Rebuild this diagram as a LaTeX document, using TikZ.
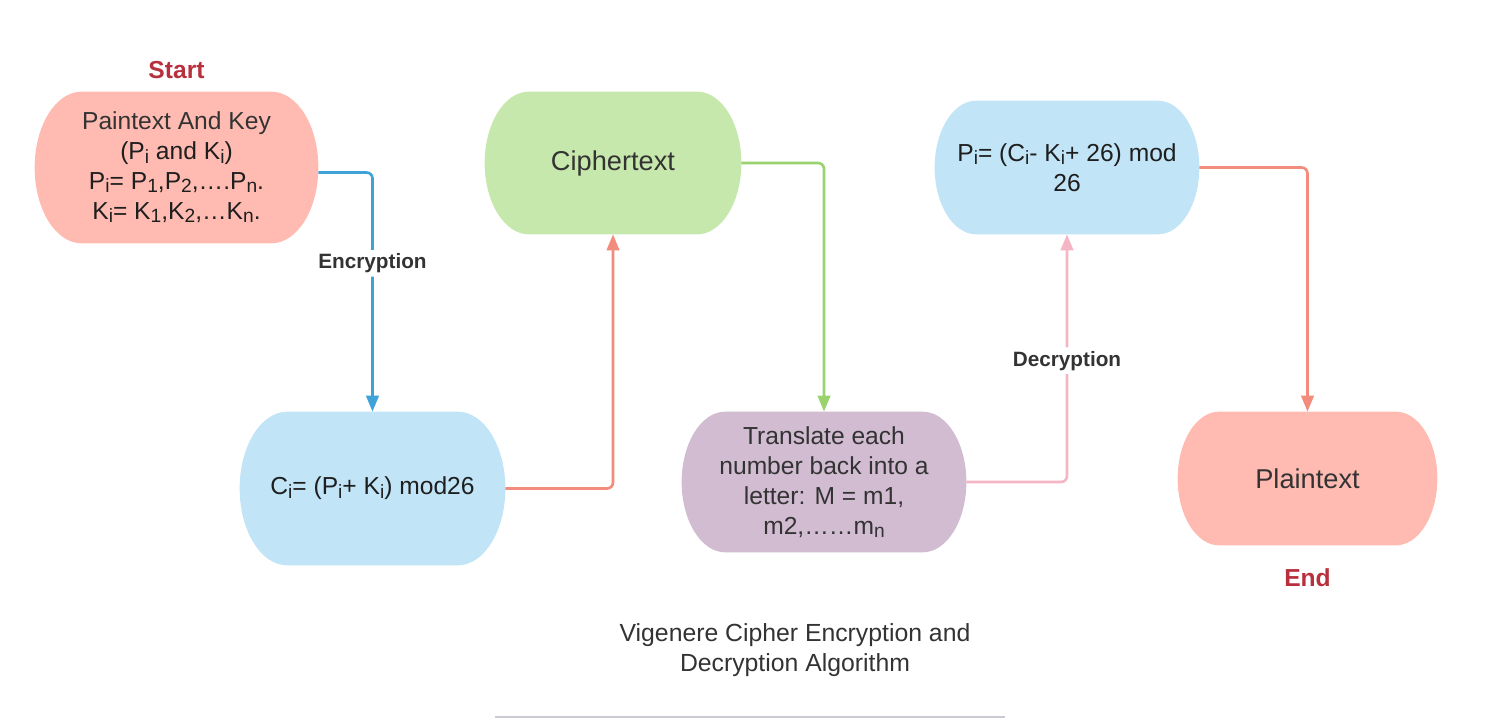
\documentclass[tikz,border=0pt]{standalone}
\usepackage{fontspec}
\setmainfont{Liberation Sans}
\usepackage{xcolor}
\usepackage{graphicx}
\usepackage{tikz}
\usetikzlibrary{arrows.meta}
\usetikzlibrary{positioning}
\usetikzlibrary{calc}
\usetikzlibrary{backgrounds}

\definecolor{pinkfill}{HTML}{FFBBB1}
\definecolor{greenfill}{HTML}{C7E8AC}
\definecolor{bluefill}{HTML}{C1E4F7}
\definecolor{purplefill}{HTML}{D1BCD2}
\definecolor{bluearrow}{HTML}{3FA2D8}
\definecolor{salmonarrow}{HTML}{F28C7C}
\definecolor{greenarrow}{HTML}{9AD26E}
\definecolor{pinkarrow}{HTML}{F4B5C5}
\definecolor{redtext}{HTML}{B8303D}
\definecolor{darktext}{HTML}{333333}
\definecolor{formtext}{HTML}{1E1E1E}
\definecolor{rulegray}{HTML}{CACBD3}

\newcommand{\sbs}[1]{\raisebox{-0.25ex}{\scalebox{0.78}{#1}}}
\newcommand{\termfill}[2]{%
  \fill[#2] let \p1=(#1.north west), \p2=(#1.south east),
    \n1={0.31*(\y1-\y2)}, \n2={0.5*(\y1-\y2)} in
    (\x1+\n1,\y1) -- (\x2-\n1,\y1)
    arc[start angle=90, end angle=-90, x radius=\n1, y radius=\n2]
    -- (\x1+\n1,\y2)
    arc[start angle=270, end angle=90, x radius=\n1, y radius=\n2] -- cycle;}

\tikzset{
  term/.style={inner sep=0pt, align=center, text=darktext, font=\fontsize{14}{17}\selectfont},
  bigterm/.style={term, font=\fontsize{15.5}{18}\selectfont},
  formula/.style={term, text=formtext},
  flow/.style={line width=1.5pt, rounded corners=0.12cm, arrows={-Triangle[width=0.25cm, length=0.32cm]}},
  edgelabel/.style={fill=white, text=darktext, inner sep=2pt, font=\bfseries\fontsize{11.8}{14}\selectfont},
  endlabel/.style={text=redtext, inner sep=0pt, font=\bfseries\fontsize{14}{17}\selectfont}
}

\begin{document}
\begin{tikzpicture}
\useasboundingbox (0,0) rectangle (29.8,-14.38);

\node[term, minimum width=5.66cm, minimum height=3.02cm] (plainkey) at (3.53,-3.35)
  {Paintext And Key\\\textcolor{formtext}{(P\sbs{i} and K\sbs{i})}\\\textcolor{formtext}{P\sbs{i}= P\sbs{1},P\sbs{2},….P\sbs{n}.}\\\textcolor{formtext}{K\sbs{i}= K\sbs{1},K\sbs{2},…K\sbs{n}.}};
\node[bigterm, minimum width=5.12cm, minimum height=2.84cm] (cipher) at (12.26,-3.26) {Ciphertext};
\node[formula, minimum width=5.28cm, minimum height=2.66cm] (dec) at (21.34,-3.35)
  {P\sbs{i}= (C\sbs{i}- K\sbs{i}+ 26) mod\\26};
\node[formula, minimum width=5.30cm, minimum height=3.06cm] (ci) at (7.45,-9.77)
  {C\sbs{i}= (P\sbs{i}+ K\sbs{i}) mod26};
\node[term, minimum width=5.68cm, minimum height=2.80cm] (trans) at (16.48,-9.64)
  {Translate each\\number back into a\\letter: M = m1,\\m2,……m\sbs{n}};
\node[bigterm, minimum width=5.18cm, minimum height=2.66cm] (plain) at (26.15,-9.57) {Plaintext};

\begin{scope}[on background layer]
\termfill{plainkey}{pinkfill}
\termfill{cipher}{greenfill}
\termfill{dec}{bluefill}
\termfill{ci}{bluefill}
\termfill{trans}{purplefill}
\termfill{plain}{pinkfill}
\end{scope}

\node[endlabel, above=0.26cm of plainkey] (start) {Start};
\node[endlabel, below=0.46cm of plain] (finish) {End};

\draw[flow, bluearrow] ([yshift=-0.1cm]plainkey.east) -| node[edgelabel, pos=0.69] (enc) {Encryption} (ci.north);
\draw[flow, salmonarrow] (ci.east) -| (cipher.south);
\draw[flow, greenarrow] (cipher.east) -| (trans.north);
\draw[flow, pinkarrow] (trans.east) -| node[edgelabel, pos=0.745] (dcr) {Decryption} (dec.south);
\draw[flow, salmonarrow] (dec.east) -| (plain.north);

\node[text=darktext, align=center, font=\fontsize{14.1}{17}\selectfont] (title) at (15.9,-13.0)
  {Vigenere Cipher Encryption and\\Decryption Algorithm};
\draw[rulegray, line width=1.2pt] (9.9,-14.34) -- (20.1,-14.34);
\end{tikzpicture}
\end{document}
